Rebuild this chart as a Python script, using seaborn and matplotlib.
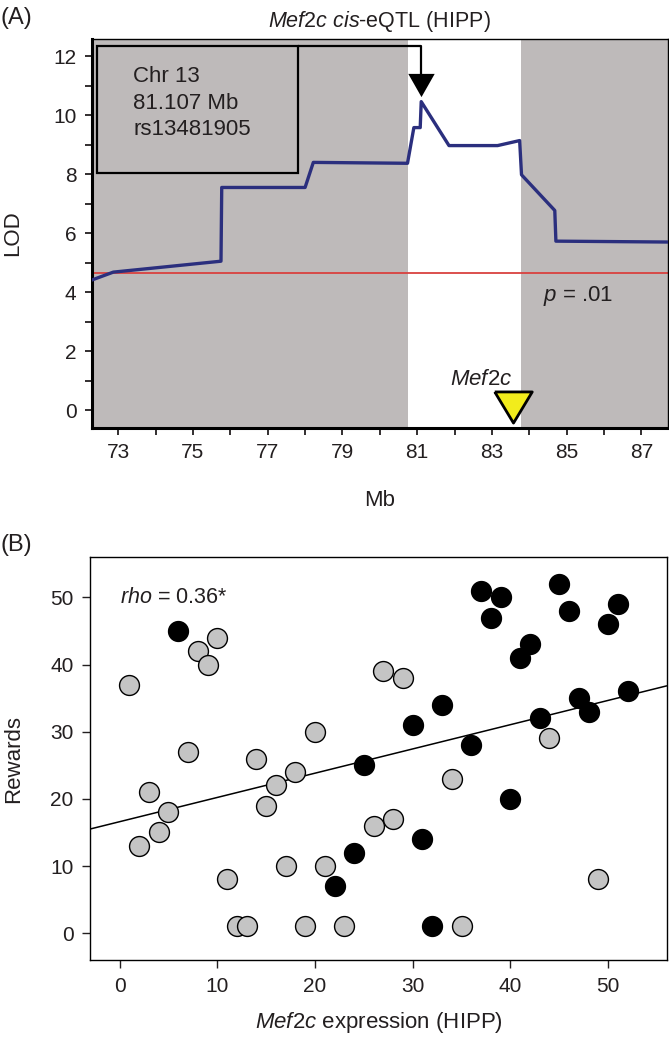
import numpy as np
import pandas as pd
import matplotlib
matplotlib.use("Agg")
import matplotlib.pyplot as plt
from matplotlib.patches import Rectangle
import seaborn as sns

# (A) LOD scan, chr 13
mb = [72.29, 72.87, 75.75, 75.77, 78.00, 78.22, 80.74, 80.91, 81.08, 81.107,
      81.85, 83.15, 83.74, 83.79, 84.68, 84.71, 87.70]
lod = [4.41, 4.68, 5.05, 7.55, 7.55, 8.40, 8.37, 9.58, 9.58, 10.46,
       8.97, 8.97, 9.14, 7.98, 6.77, 5.73, 5.70]
threshold = 4.66          # p = .01
peak_mb = 81.107
gene_mb = 83.55           # Mef2c position
support = (80.74, 83.77)  # white band

# (B) expression vs rewards
expr_grey = [1, 2, 3, 4, 5, 7, 8, 9, 10, 11, 12, 13, 14, 15, 16, 17, 18, 19, 20,
             21, 23, 26, 27, 28, 29, 34, 35, 44, 49]
rew_grey = [37, 13, 21, 15, 18, 27, 42, 40, 44, 8, 1, 1, 26, 19, 22, 10, 24, 1, 30,
            10, 1, 16, 39, 17, 38, 23, 1, 29, 8]
expr_black = [6, 22, 24, 25, 30, 31, 32, 33, 36, 37, 38, 39, 40, 41, 42, 43, 45,
              46, 47, 48, 50, 51, 52]
rew_black = [45, 7, 12, 25, 31, 14, 1, 34, 28, 51, 47, 50, 20, 41, 43, 32, 52,
             48, 35, 33, 46, 49, 36]

sns.set_theme(style="ticks")
plt.rcParams['font.family'] = ['Liberation Sans', 'DejaVu Sans']
plt.rcParams['mathtext.fontset'] = 'custom'
plt.rcParams['mathtext.rm'] = 'Liberation Sans'
plt.rcParams['mathtext.it'] = 'Liberation Sans:italic'
txt = '#231f20'
grey_bg = '#bebaba'
fs_tick = 15
fs_lab = 16
fs_txt = 16

fig = plt.figure(figsize=(6.69, 10.41), dpi=100)
axA = fig.add_axes([0.137, 0.589, 0.861, 0.374])
axB = fig.add_axes([0.135, 0.0778, 0.8616, 0.387])

# ---- panel A
axA.set_facecolor(grey_bg)
axA.axvspan(support[0], support[1], color='white', lw=0, zorder=0)
axA.axhline(threshold, color='#d9413f', lw=1.3, zorder=2)
sns.lineplot(x=mb, y=lod, sort=False, color='#2b2f7e', lw=2.4, ax=axA, zorder=3)

axA.set_xlim(72.29, 87.7)
axA.set_ylim(-0.6, 12.6)
xt = np.arange(73, 88)
axA.set_xticks(xt)
axA.set_xticklabels([str(v) if v % 2 == 1 else '' for v in xt])
yt = np.arange(0, 13)
axA.set_yticks(yt)
axA.set_yticklabels([str(v) if v % 2 == 0 else '' for v in yt])
axA.tick_params(labelsize=fs_tick, colors=txt, length=5, width=1.3, pad=6)
for s in ['left', 'bottom']:
    axA.spines[s].set_linewidth(2.2)
for s in ['top', 'right']:
    axA.spines[s].set_linewidth(1.0)
for s in axA.spines.values():
    s.set_color('black')

# marker box
axA.add_patch(Rectangle((72.44, 8.04), 77.81 - 72.44, 12.35 - 8.04,
                        fc=grey_bg, ec='black', lw=1.6, zorder=4))
axA.text(73.4, 11.32, 'Chr 13', fontsize=fs_txt, color=txt, va='center', zorder=5)
axA.text(73.4, 10.40, '81.107 Mb', fontsize=fs_txt, color=txt, va='center', zorder=5)
axA.text(73.4, 9.52, 'rs13481905', fontsize=fs_txt, color=txt, va='center', zorder=5)
axA.plot([77.81, peak_mb, peak_mb], [12.35, 12.35, 11.4], color='black', lw=1.6, zorder=4)
tri = [(-1, 0.88), (1, 0.88), (0, -0.88), (-1, 0.88)]
axA.scatter([peak_mb], [11.02], marker=tri, s=19 ** 2, color='black', lw=0, zorder=5)

axA.scatter([gene_mb], [0.1], marker=[(-1, 0.83), (1, 0.83), (0, -0.83), (-1, 0.83)],
            s=27 ** 2, color='#f2ec1c', edgecolor='black', linewidths=2, zorder=5,
            clip_on=False)
axA.text(gene_mb, 0.7, r'$\it{Mef2c}$', fontsize=fs_txt, color=txt, ha='right', va='bottom')
axA.text(84.36, 3.86, r'$\it{p}$ = .01', fontsize=fs_txt, color=txt, va='center')

axA.set_xlabel('Mb', fontsize=fs_lab, color=txt)
axA.set_ylabel('LOD', fontsize=fs_lab, color=txt)
axA.xaxis.set_label_coords(0.5, -0.16)
axA.yaxis.set_label_coords(-0.119, 0.5)
axA.set_title(r'$\it{Mef2c}$ $\it{cis}$-eQTL (HIPP)', fontsize=15.5, color=txt, pad=8)

# ---- panel B
df = pd.DataFrame({
    'expr': expr_grey + expr_black,
    'rewards': rew_grey + rew_black,
    'group': ['grey'] * len(expr_grey) + ['black'] * len(expr_black),
}).sort_values('expr')

axB.set_xlim(-3, 56)
axB.set_ylim(-4, 56)
sns.regplot(data=df, x='expr', y='rewards', scatter=False, ci=None, truncate=False,
            line_kws=dict(color='black', lw=1.1, zorder=1), ax=axB)
for _, r in df.iterrows():
    fc = '#c4c4c4' if r['group'] == 'grey' else 'black'
    axB.scatter(r['expr'], r['rewards'], s=205, color=fc, edgecolor='black',
                linewidths=1.0, zorder=3)
axB.set_xlim(-3, 56)
axB.set_ylim(-4, 56)
axB.set_xticks([0, 10, 20, 30, 40, 50])
axB.set_yticks([0, 10, 20, 30, 40, 50])
axB.tick_params(labelsize=fs_tick, colors=txt, length=6, width=1, pad=6)
for s in axB.spines.values():
    s.set_linewidth(1.0)
    s.set_color('black')
axB.text(0, 50, r'$\it{rho}$ = 0.36*', fontsize=15.5, color=txt, va='center')
axB.set_xlabel(r'$\it{Mef2c}$ expression (HIPP)', fontsize=fs_lab, color=txt)
axB.set_ylabel('Rewards', fontsize=fs_lab, color=txt)
axB.xaxis.set_label_coords(0.5, -0.125)
axB.yaxis.set_label_coords(-0.115, 0.5)

fig.text(0.001, 1 - 18 / 1041, '(A)', fontsize=17, color=txt, va='center')
fig.text(0.001, 1 - 545 / 1041, '(B)', fontsize=17, color=txt, va='center')

fig.savefig('out.png', dpi=100)
